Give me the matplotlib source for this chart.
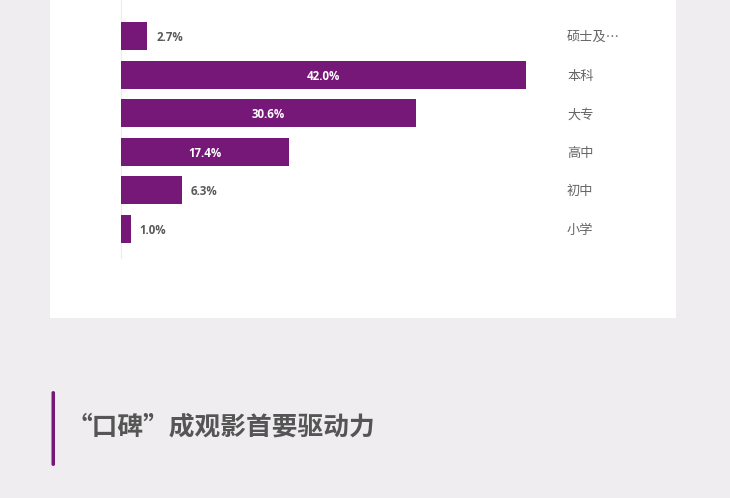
import matplotlib
matplotlib.use("Agg")
import matplotlib.pyplot as plt
import matplotlib.transforms as mtransforms
from matplotlib.patches import Rectangle, FancyBboxPatch
from matplotlib.lines import Line2D

categories = ["硕士及…", "本科", "大专", "高中", "初中", "小学"]
values = [2.7, 42.0, 30.6, 17.4, 6.3, 1.0]
value_labels = ["2.7%", "42.0%", "30.6%", "17.4%", "6.3%", "1.0%"]
title = "“口碑”成观影首要驱动力"

W, H = 730, 498
BAR = "#761878"
BG = "#efedef"

plt.rcParams['font.family'] = ['Noto Sans CJK SC', 'DejaVu Sans']

fig = plt.figure(figsize=(W / 100, H / 100), dpi=100)
fig.patch.set_facecolor(BG)

def fx(px):
    return px / W

def fy(py):
    return 1 - py / H

# white card
fig.patches.append(Rectangle((fx(50), fy(318)), fx(676) - fx(50), fy(0) - fy(318),
                             transform=fig.transFigure, facecolor="white",
                             edgecolor="none", zorder=-2))
# faint axis line
fig.lines.append(Line2D([fx(121), fx(121)], [fy(0), fy(258)], transform=fig.transFigure,
                        color="#ececec", lw=0.8, zorder=-1))

# bar axes
left = fx(121)
width = (526 - 121) / W
top_px, bot_px = 16.7, 248.3
ax = fig.add_axes([left, fy(bot_px), width, (bot_px - top_px) / H])
ax.set_xlim(0, 42.0)
n = len(categories)
ax.set_ylim(n - 0.5, -0.5)
ax.axis("off")
ax.patch.set_alpha(0)
ax.set_zorder(1)

ys = list(range(n))
ax.barh(ys, values, height=0.73, color=BAR, zorder=2)

down = mtransforms.ScaledTranslation(0, -1.5 / 100, fig.dpi_scale_trans)
px_per_unit = 405 / 42.0
for y, v, lab in zip(ys, values, value_labels):
    if v > 12:
        ax.text(v / 2, y, lab, ha="center", va="center", color="white",
                fontsize=8.3, fontweight="bold", family=["Open Sans", "DejaVu Sans"],
                transform=ax.transData + down)
    else:
        ax.text(v + 9 / px_per_unit, y, lab, ha="left", va="center", color="#5a5a5a",
                fontsize=8.3, fontweight="bold", family=["Open Sans", "DejaVu Sans"],
                transform=ax.transData + down)

trans = mtransforms.blended_transform_factory(fig.transFigure, ax.transData) + down
for y, c in zip(ys, categories):
    ax.text(fx(567), y, c, transform=trans, ha="left", va="center",
            color="#666666", fontsize=9.5, clip_on=False)

# title accent bar
fig.patches.append(FancyBboxPatch((fx(51.5), fy(466)), fx(3.5), fy(391) - fy(466),
                                  boxstyle="round,pad=0,rounding_size=0.003",
                                  transform=fig.transFigure, facecolor=BAR,
                                  edgecolor="none", zorder=2))
fig.text(fx(66), fy(427), title, ha="left", va="center", color="#555555",
         fontsize=18.5, fontweight="bold")

fig.savefig("out.png", dpi=100, facecolor=BG)
